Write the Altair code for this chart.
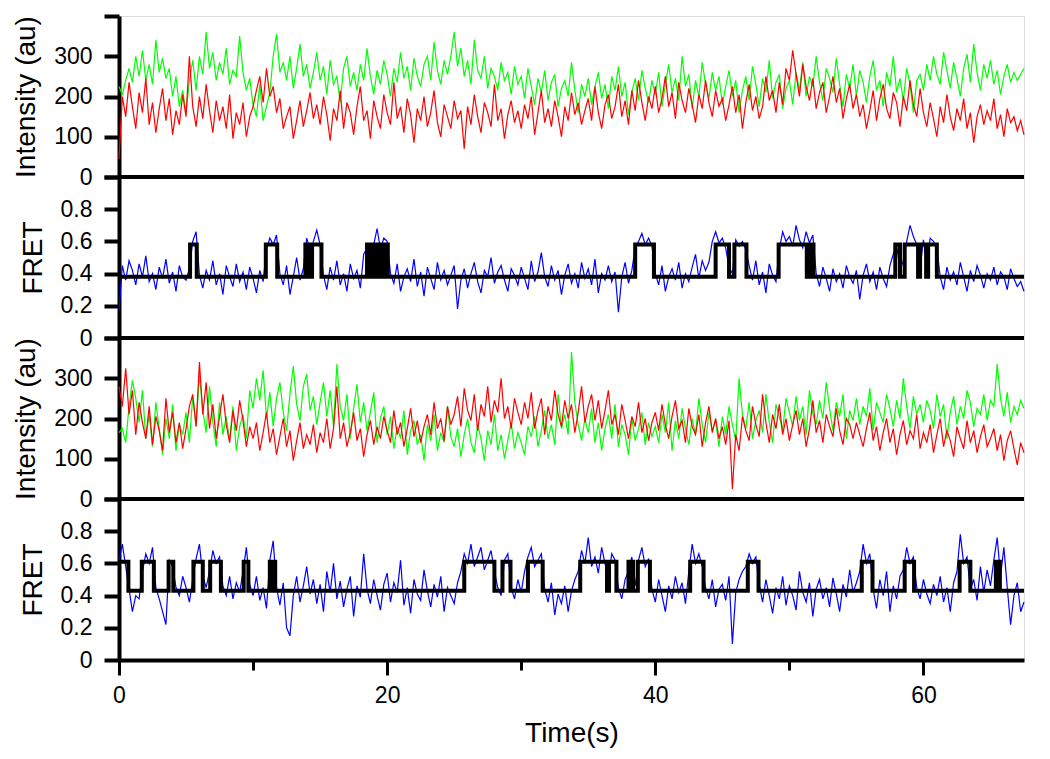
import altair as alt
import pandas as pd

# ---------------- data ----------------
dt = 0.25          # sampling step of the traces (s)
t_end = 67.5       # end of the time axis (s)

# Panel 1: donor (green) / acceptor (red) intensity
g1 = [225, 205, 240, 270, 235, 300, 250, 315, 240, 280, 230, 340, 260, 295, 245, 270, 200, 250, 175, 215,
      160, 240, 290, 215, 300, 255, 360, 270, 310, 240, 285, 255, 320, 230, 265, 250, 350, 260, 215, 245,
      180, 150, 230, 140, 175, 210, 300, 355, 260, 285, 240, 300, 220, 270, 330, 250, 280, 220, 260, 310,
      240, 275, 205, 290, 230, 250, 185, 270, 300, 225, 260, 215, 280, 240, 320, 250, 205, 265, 230, 290,
      255, 200, 270, 235, 310, 245, 275, 215, 295, 250, 225, 280, 300, 240, 335, 265, 230, 290, 255, 300,
      360, 275, 320, 250, 290, 230, 340, 265, 245, 300, 220, 270, 250, 215, 285, 240, 260, 205, 275, 230,
      250, 195, 270, 225, 180, 245, 210, 265, 190, 235, 255, 175, 220, 240, 200, 285, 215, 160, 230, 200,
      245, 180, 225, 260, 195, 230, 170, 250, 215, 275, 200, 235, 155, 210, 245, 190, 265, 220, 185, 240,
      205, 260, 175, 230, 280, 210, 245, 190, 300, 225, 255, 170, 240, 200, 285, 230, 195, 260, 215, 250,
      180, 225, 265, 200, 240, 160, 215, 250, 190, 275, 230, 175, 245, 210, 290, 195, 235, 255, 170, 220,
      240, 180, 260, 215, 285, 200, 250, 225, 300, 235, 190, 270, 245, 210, 295, 230, 175, 255, 220, 280,
      200, 265, 235, 185, 250, 290, 215, 240, 175, 260, 225, 300, 210, 245, 190, 270, 230, 160, 240, 255,
      215, 280, 240, 300, 255, 230, 310, 265, 220, 285, 245, 200, 270, 305, 235, 330, 260, 215, 280, 245,
      290, 230, 265, 205, 250, 280, 235, 260, 240, 255, 270]
r1 = [45, 200, 150, 235, 175, 120, 210, 160, 245, 130, 185, 110, 170, 220, 140, 195, 105, 165, 130, 205,
      150, 300, 175, 125, 200, 145, 230, 165, 110, 190, 140, 175, 120, 205, 95, 160, 130, 185, 100, 150,
      175, 215, 250, 185, 270, 200, 225, 160, 195, 120, 150, 175, 95, 140, 190, 125, 165, 210, 145, 180,
      130, 200, 155, 90, 170, 140, 215, 120, 185, 160, 105, 175, 225, 140, 165, 95, 190, 150, 120, 205,
      160, 130, 235, 145, 175, 110, 195, 155, 85, 170, 140, 200, 125, 160, 215, 135, 100, 180, 150, 120,
      190, 145, 165, 70, 175, 130, 205, 150, 110, 185, 160, 125, 230, 140, 170, 95, 155, 190, 135, 165,
      120, 180, 145, 200, 105, 160, 215, 135, 170, 125, 190, 150, 100, 175, 140, 210, 155, 185, 130, 165,
      195, 140, 225, 160, 120, 180, 205, 145, 175, 230, 150, 190, 130, 215, 165, 240, 185, 140, 200, 170,
      225, 160, 195, 250, 175, 210, 145, 235, 190, 160, 220, 180, 135, 205, 170, 240, 185, 150, 215, 175,
      195, 140, 180, 225, 160, 205, 120, 185, 230, 165, 200, 145, 175, 250, 190, 215, 160, 235, 180, 270,
      240, 315, 255, 200, 280, 225, 190, 245, 170, 210, 235, 160, 200, 250, 185, 220, 145, 195, 230, 170,
      205, 150, 180, 120, 165, 215, 140, 195, 230, 170, 145, 210, 185, 125, 200, 165, 240, 180, 150, 220,
      160, 125, 185, 145, 100, 175, 135, 205, 150, 115, 170, 140, 195, 120, 160, 85, 150, 180, 130, 165,
      140, 195, 120, 155, 100, 170, 135, 150, 115, 140, 105]

# Panel 2: FRET trace (blue) and fitted two-state steps (black)
b2 = [.17, .45, .36, .48, .42, .33, .46, .38, .51, .35, .40, .30, .44, .37, .49, .34, .41, .29, .45, .38,
      .36, .43, .60, .66, .39, .31, .42, .36, .48, .33, .40, .27, .45, .38, .32, .46, .35, .41, .30, .44,
      .37, .28, .42, .35, .55, .62, .58, .64, .40, .33, .45, .27, .38, .50, .36, .43, .62, .55, .60, .67,
      .58, .39, .30, .44, .36, .48, .33, .40, .29, .46, .37, .42, .31, .52, .56, .45, .58, .68, .55, .62,
      .60, .40, .34, .46, .29, .38, .43, .35, .49, .32, .41, .26, .44, .37, .30, .47, .36, .42, .33, .39,
      .45, .18, .36, .43, .31, .40, .47, .35, .28, .42, .38, .50, .34, .41, .45, .36, .29, .43, .39, .33,
      .44, .37, .30, .48, .35, .41, .53, .38, .32, .45, .36, .42, .27, .39, .46, .34, .40, .31, .47, .37,
      .43, .33, .49, .28, .40, .36, .45, .35, .41, .16, .38, .47, .34, .42, .56, .60, .65, .58, .62, .57,
      .40, .33, .45, .29, .38, .43, .36, .47, .31, .40, .35, .44, .52, .37, .48, .42, .47, .60, .66, .59,
      .62, .56, .44, .40, .61, .57, .60, .55, .45, .36, .48, .33, .41, .28, .46, .39, .35, .55, .66, .60,
      .63, .57, .70, .61, .56, .66, .59, .64, .40, .32, .44, .37, .29, .43, .35, .40, .31, .45, .38, .34,
      .42, .24, .39, .46, .35, .41, .30, .44, .37, .32, .45, .52, .58, .42, .48, .60, .70, .63, .58, .43,
      .61, .45, .62, .60, .56, .38, .30, .44, .36, .41, .33, .47, .38, .29, .42, .35, .45, .39, .31, .40,
      .36, .44, .33, .41, .38, .30, .43, .37, .32, .35, .29]
fit2_low, fit2_high = 0.38, 0.58
fit2_high_intervals = [(5.3, 5.8), (10.95, 11.8), (13.9, 14.05), (14.15, 14.3), (14.4, 15.1),
                       (18.5, 18.7), (18.8, 19.0), (19.1, 19.3), (19.55, 19.75), (19.85, 20.05),
                       (38.5, 39.9), (44.5, 45.5), (45.9, 46.8), (49.2, 51.3), (51.4, 51.55),
                       (51.65, 51.8), (57.9, 58.25), (58.6, 59.6), (59.75, 60.2), (60.35, 61.0)]

# Panel 3: donor (green) / acceptor (red) intensity
g3 = [165, 175, 140, 230, 295, 250, 190, 270, 150, 210, 130, 240, 175, 110, 200, 150, 235, 120, 185, 160,
      215, 140, 255, 180, 310, 220, 165, 280, 190, 130, 240, 160, 205, 145, 230, 120, 180, 210, 150, 270,
      225, 300, 245, 320, 200, 265, 180, 250, 290, 215, 170, 260, 330, 235, 195, 280, 310, 220, 255, 185,
      240, 290, 205, 270, 180, 335, 230, 195, 260, 150, 225, 285, 190, 240, 170, 215, 265, 140, 200, 230,
      160, 205, 125, 180, 150, 220, 110, 170, 195, 135, 160, 95, 185, 145, 210, 120, 165, 140, 230, 155,
      130, 175, 105, 160, 200, 140, 115, 185, 150, 95, 170, 135, 210, 120, 160, 100, 145, 190, 125, 165,
      140, 110, 180, 155, 205, 130, 170, 220, 150, 185, 135, 260, 175, 210, 160, 365, 240, 185, 145, 200,
      165, 225, 140, 190, 120, 175, 210, 150, 235, 130, 185, 160, 110, 200, 145, 175, 215, 135, 190, 155,
      180, 140, 210, 165, 240, 120, 195, 150, 225, 175, 135, 200, 160, 250, 185, 140, 215, 170, 195, 130,
      205, 160, 230, 185, 145, 300, 210, 175, 240, 150, 195, 220, 165, 260, 190, 140, 235, 205, 170, 250,
      215, 180, 255, 195, 230, 160, 270, 210, 185, 245, 200, 290, 225, 170, 240, 205, 260, 150, 220, 195,
      250, 185, 230, 205, 275, 170, 240, 215, 190, 260, 225, 180, 245, 200, 300, 230, 175, 255, 210, 235,
      190, 245, 220, 175, 260, 205, 235, 150, 215, 255, 185, 230, 200, 270, 240, 180, 225, 210, 260, 195,
      245, 230, 335, 250, 205, 265, 190, 230, 210, 245, 225]
r3 = [280, 230, 325, 210, 270, 160, 240, 190, 150, 230, 135, 205, 170, 120, 250, 165, 215, 140, 190, 125,
      175, 230, 260, 180, 340, 210, 290, 175, 235, 150, 205, 260, 185, 140, 220, 170, 245, 195, 130, 180,
      150, 190, 120, 165, 215, 140, 175, 110, 155, 200, 130, 170, 95, 145, 190, 125, 160, 135, 185, 115,
      165, 140, 200, 125, 175, 280, 150, 190, 130, 165, 215, 145, 175, 105, 160, 195, 135, 180, 150, 205,
      170, 140, 220, 160, 190, 130, 175, 225, 155, 195, 140, 180, 210, 160, 240, 175, 200, 145, 230, 185,
      210, 255, 180, 275, 220, 195, 260, 170, 235, 205, 280, 190, 245, 215, 300, 200, 230, 175, 250, 215,
      185, 240, 200, 265, 175, 220, 250, 160, 230, 195, 270, 210, 180, 245, 200, 235, 165, 215, 280, 190,
      230, 260, 195, 245, 175, 220, 270, 185, 210, 160, 235, 195, 150, 205, 180, 240, 165, 200, 145, 190,
      215, 170, 235, 185, 150, 205, 245, 175, 195, 140, 225, 180, 160, 210, 130, 190, 230, 165, 200, 150,
      180, 135, 195, 25, 160, 120, 205, 170, 145, 230, 185, 155, 260, 190, 140, 210, 175, 235, 160, 200,
      145, 185, 220, 160, 200, 130, 175, 245, 165, 195, 140, 210, 180, 155, 225, 170, 135, 200, 185, 150,
      190, 160, 130, 175, 215, 145, 180, 120, 165, 200, 140, 175, 110, 160, 195, 135, 170, 150, 210, 125,
      165, 140, 185, 115, 160, 200, 130, 170, 145, 105, 180, 150, 125, 195, 140, 170, 115, 155, 185, 130,
      150, 175, 120, 160, 95, 145, 170, 125, 85, 140, 115]

# Panel 4: FRET trace (blue) and fitted two-state steps (black)
b4 = [.62, .72, .58, .44, .30, .40, .38, .55, .66, .60, .70, .45, .38, .30, .22, .62, .58, .45, .40, .52,
      .45, .36, .50, .63, .72, .52, .45, .55, .68, .60, .64, .46, .40, .52, .38, .48, .42, .55, .70, .47,
      .40, .52, .37, .45, .32, .62, .74, .45, .34, .48, .20, .15, .40, .52, .36, .46, .58, .41, .50, .35,
      .47, .30, .55, .42, .60, .38, .49, .33, .44, .52, .27, .46, .39, .66, .44, .35, .50, .40, .31, .47,
      .54, .36, .48, .42, .62, .34, .45, .29, .50, .41, .37, .56, .43, .33, .47, .39, .52, .30, .45, .40,
      .35, .48, .55, .66, .60, .72, .58, .64, .70, .56, .62, .68, .55, .45, .40, .62, .66, .45, .38, .50,
      .42, .55, .64, .70, .58, .62, .66, .44, .36, .48, .28, .41, .35, .46, .30, .43, .50, .55, .68, .60,
      .76, .58, .64, .54, .70, .60, .50, .66, .62, .45, .38, .50, .55, .64, .46, .62, .70, .58, .63, .44,
      .36, .50, .40, .30, .46, .38, .52, .42, .48, .35, .55, .72, .60, .66, .58, .45, .38, .50, .33, .44,
      .47, .37, .52, .10, .42, .50, .55, .58, .66, .60, .64, .47, .36, .50, .40, .29, .45, .38, .52, .34,
      .46, .40, .31, .55, .42, .36, .48, .27, .44, .50, .38, .45, .33, .51, .41, .30, .47, .39, .56, .42,
      .48, .55, .72, .60, .66, .44, .32, .50, .40, .55, .30, .46, .38, .52, .56, .70, .60, .64, .45, .38,
      .50, .41, .35, .47, .40, .52, .36, .45, .30, .48, .55, .78, .60, .64, .44, .50, .37, .58, .42, .56,
      .46, .62, .76, .52, .70, .45, .22, .40, .48, .30, .36]
fit4_low, fit4_high = 0.43, 0.61
fit4_high_intervals = [(0.0, 0.7), (1.7, 2.6), (3.7, 4.05), (5.55, 6.25), (6.8, 7.6), (9.3, 9.65),
                       (11.25, 11.4), (11.5, 11.65), (25.75, 28.0), (28.6, 29.2), (30.5, 31.6),
                       (34.4, 36.4), (36.55, 37.1), (38.0, 38.1), (38.25, 38.35), (38.7, 39.6),
                       (42.6, 43.6), (46.9, 47.7), (55.4, 56.2), (58.6, 59.3), (62.7, 63.5),
                       (65.4, 65.5), (65.6, 65.7)]

x_major = [0, 20, 40, 60]
x_minor = [10, 30, 50]
int_ticks = [0, 100, 200, 300, 400]
fret_ticks = [0, 0.2, 0.4, 0.6, 0.8, 1.0]

# ---------------- helpers ----------------
FONT = "Liberation Sans"
W, H = 905, 161


def trace_df(values):
    return pd.DataFrame({"t": [round(i * dt, 3) for i in range(len(values))], "v": values})


def step_df(intervals, low, high):
    ts, vs = [], []
    for k, (a, b) in enumerate(intervals):
        if k == 0 and a > 0:
            ts.append(0.0); vs.append(low)
        if a == 0:
            ts += [a, b, b]; vs += [high, high, low]
        else:
            ts += [a, a, b, b]; vs += [low, high, high, low]
    ts.append(t_end); vs.append(low)
    return pd.DataFrame({"t": ts, "v": vs, "i": list(range(len(ts)))})


def x_enc(bottom):
    scale = alt.Scale(domain=[0, t_end], nice=False, zero=False)
    if bottom:
        ax = alt.Axis(
            title="Time(s)", values=sorted(x_major + x_minor), grid=False,
            domainWidth=4, domainColor="black", tickColor="black", tickWidth=3,
            tickSize={"condition": {"test": "datum.value % 20 == 0", "value": 15}, "value": 10},
            labelExpr="datum.value % 20 == 0 ? datum.label : ''",
            labelFlush=False, labelOverlap=False,
            labelFont=FONT, labelFontSize=23, labelColor="black", labelPadding=9,
            titleFont=FONT, titleFontSize=28, titleFontWeight="normal", titleColor="black",
            titlePadding=12)
    else:
        ax = None
    return alt.X("t:Q", scale=scale, axis=ax)


def y_enc(title, ticks, top_hidden):
    ax = alt.Axis(title=title, values=ticks, grid=False,
                  labelExpr=f"datum.value == {top_hidden} ? '' : format(datum.value, '~f')",
                  labelFontSize={"condition": {"test": f"datum.value == {top_hidden}", "value": 0},
                                 "value": 23},
                  domainWidth=4, domainColor="black", tickColor="black",
                  tickWidth=4, tickSize=15, labelPadding=12, labelFont=FONT,
                  labelColor="black", labelOverlap=False, labelFlush=False,
                  titleFont=FONT, titleFontSize=28, titleFontWeight="normal", titleColor="black",
                  titlePadding=13)
    return alt.Y("v:Q", scale=alt.Scale(domain=[ticks[0], ticks[-1]], nice=False), axis=ax)


def top_rule(ye, ticks):
    # line along the top of a panel = the zero line of the panel above
    return alt.Chart(pd.DataFrame({"v": [ticks[-1]]})).mark_rule(
        color="black", strokeWidth=4).encode(y=ye)


def intensity_panel(green, red, first=False):
    ye = y_enc("Intensity (au)", int_ticks, 400)
    xe = x_enc(False)
    lg = alt.Chart(trace_df(green)).mark_line(color="#00FF00", strokeWidth=1.2).encode(x=xe, y=ye)
    lr = alt.Chart(trace_df(red)).mark_line(color="#FF0000", strokeWidth=1.2).encode(x=xe, y=ye)
    layers = [lg, lr] if first else [lg, lr, top_rule(ye, int_ticks)]
    return alt.layer(*layers).properties(width=W, height=H)


def fret_panel(blue, intervals, low, high, bottom=False):
    ye = y_enc("FRET", fret_ticks, 1)
    xe = x_enc(bottom)
    lb = alt.Chart(trace_df(blue)).mark_line(color="#0000FF", strokeWidth=1.2).encode(x=xe, y=ye)
    ls = alt.Chart(step_df(intervals, low, high)).mark_line(
        color="black", strokeWidth=4, strokeJoin="miter").encode(x=xe, y=ye, order="i:Q")
    return alt.layer(lb, ls, top_rule(ye, fret_ticks)).properties(width=W, height=H)


chart = alt.vconcat(
    intensity_panel(g1, r1, first=True),
    fret_panel(b2, fit2_high_intervals, fit2_low, fit2_high),
    intensity_panel(g3, r3),
    fret_panel(b4, fit4_high_intervals, fit4_low, fit4_high, bottom=True),
    spacing=0,
    bounds="flush",
).properties(
    padding={"left": 4, "top": 5, "right": 5, "bottom": 5}
).configure_view(stroke=None).configure(background="white")

chart.save("out.html", embed_options={"renderer": "svg", "actions": False})
